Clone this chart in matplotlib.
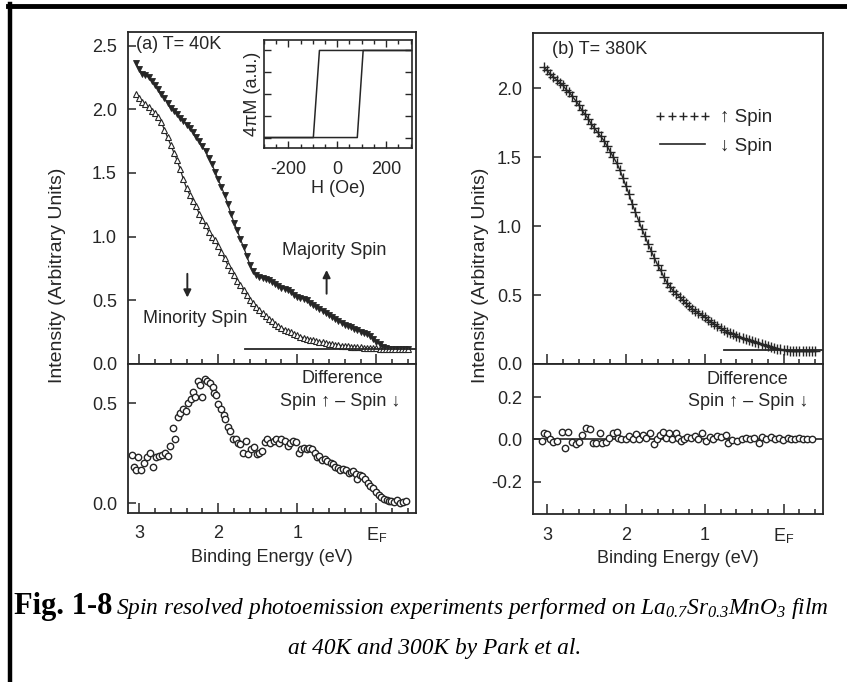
import numpy as np
import matplotlib

matplotlib.use("Agg")
import matplotlib.pyplot as plt
from matplotlib.lines import Line2D
from matplotlib.ticker import FixedLocator, MultipleLocator

plt.rcParams.update(
    {
        "font.family": ["Liberation Sans", "DejaVu Sans"],
        "axes.unicode_minus": False,
        "mathtext.fontset": "custom",
        "mathtext.rm": "Liberation Serif:italic",
        "mathtext.sf": "Liberation Sans",
        "mathtext.it": "Liberation Serif:italic",
        "mathtext.bf": "Liberation Serif:bold",
    }
)

INK = "#262626"

# ---- panel (a), T = 40 K: spin-resolved spectra on a uniform energy grid
ENERGY_A = np.linspace(3.04, -0.40, 87)
MAJORITY_40K = [
    2.36, 2.32, 2.28, 2.27, 2.25, 2.22, 2.19, 2.16, 2.12, 2.09,
    2.05, 2.01, 1.99, 1.96, 1.93, 1.91, 1.88, 1.85, 1.82, 1.78,
    1.75, 1.71, 1.67, 1.62, 1.57, 1.51, 1.45, 1.39, 1.33, 1.26,
    1.18, 1.11, 1.05, 0.98, 0.92, 0.85, 0.78, 0.73, 0.70, 0.68,
    0.675, 0.67, 0.66, 0.645, 0.63, 0.615, 0.60, 0.59, 0.58, 0.565,
    0.545, 0.53, 0.52, 0.51, 0.50, 0.48, 0.465, 0.45, 0.43, 0.42,
    0.40, 0.385, 0.37, 0.355, 0.34, 0.32, 0.31, 0.30, 0.29, 0.275,
    0.265, 0.255, 0.245, 0.235, 0.22, 0.20, 0.175, 0.155, 0.135, 0.125,
    0.12, 0.12, 0.118, 0.12, 0.12, 0.118, 0.12,
]
MINORITY_40K = [
    2.12, 2.09, 2.06, 2.04, 2.02, 1.99, 1.97, 1.94, 1.90, 1.84,
    1.78, 1.72, 1.66, 1.60, 1.53, 1.45, 1.38, 1.33, 1.28, 1.24,
    1.18, 1.13, 1.09, 1.04, 1.00, 0.97, 0.93, 0.88, 0.83, 0.78,
    0.74, 0.70, 0.655, 0.62, 0.58, 0.54, 0.505, 0.48, 0.45, 0.425,
    0.40, 0.375, 0.355, 0.335, 0.315, 0.30, 0.285, 0.27, 0.26, 0.25,
    0.235, 0.225, 0.215, 0.205, 0.20, 0.19, 0.185, 0.18, 0.175, 0.17,
    0.165, 0.16, 0.155, 0.15, 0.148, 0.145, 0.14, 0.138, 0.135, 0.133,
    0.13, 0.13, 0.128, 0.125, 0.125, 0.123, 0.122, 0.12, 0.12, 0.12,
    0.118, 0.12, 0.12, 0.118, 0.12, 0.12, 0.12,
]
BASELINE_A = ([1.66, -0.50], [0.12, 0.12])

DIFF_E_A = [
    3.09, 3.07, 3.04, 3.01, 2.97, 2.94, 2.90, 2.86, 2.82, 2.79,
    2.75, 2.71, 2.67, 2.64, 2.61, 2.57, 2.54, 2.51, 2.48, 2.44,
    2.41, 2.38, 2.35, 2.32, 2.29, 2.26, 2.23, 2.20, 2.17, 2.14,
    2.10, 2.07, 2.05, 2.03, 2.00, 1.97, 1.93, 1.91, 1.88, 1.85,
    1.81, 1.78, 1.75, 1.72, 1.69, 1.65, 1.62, 1.58, 1.55, 1.51,
    1.48, 1.45, 1.41, 1.38, 1.34, 1.30, 1.27, 1.23, 1.20, 1.16,
    1.12, 1.09, 1.06, 1.02, 0.98, 0.95, 0.91, 0.88, 0.85, 0.81,
    0.78, 0.75, 0.72, 0.69, 0.65, 0.62, 0.58, 0.55, 0.52, 0.49,
    0.46, 0.42, 0.39, 0.35, 0.32, 0.29, 0.26, 0.24, 0.21, 0.18,
    0.14, 0.11, 0.08, 0.04, 0.01, -0.03, -0.06, -0.09, -0.13, -0.16,
    -0.19, -0.22, -0.26, -0.30, -0.33, -0.37,
]
DIFF_A = [
    0.24, 0.18, 0.165, 0.23, 0.165, 0.20, 0.23, 0.25, 0.18, 0.23,
    0.235, 0.24, 0.25, 0.235, 0.285, 0.375, 0.32, 0.43, 0.45, 0.47,
    0.46, 0.50, 0.52, 0.556, 0.53, 0.61, 0.59, 0.53, 0.62, 0.61,
    0.60, 0.58, 0.55, 0.54, 0.495, 0.47, 0.44, 0.42, 0.38, 0.36,
    0.32, 0.32, 0.30, 0.295, 0.25, 0.31, 0.245, 0.27, 0.28, 0.245,
    0.25, 0.26, 0.305, 0.32, 0.30, 0.31, 0.32, 0.30, 0.32, 0.31,
    0.285, 0.30, 0.31, 0.305, 0.25, 0.27, 0.275, 0.27, 0.275, 0.27,
    0.25, 0.23, 0.235, 0.215, 0.22, 0.21, 0.20, 0.195, 0.18, 0.175,
    0.165, 0.17, 0.165, 0.15, 0.155, 0.16, 0.145, 0.12, 0.14, 0.135,
    0.12, 0.10, 0.085, 0.075, 0.055, 0.04, 0.03, 0.02, 0.015, 0.01,
    0.01, 0.005, 0.015, 0.0, 0.005, 0.012,
]

# inset: hysteresis loop, field in Oe, magnetisation in arbitrary units
H_DOWN = [300, -73, -98, -300]
M_DOWN = [1.0, 1.0, -1.0, -1.0]
H_UP = [-300, 82, 106, 300]
M_UP = [-1.0, -1.0, 1.0, 1.0]

# ---- panel (b), T = 380 K
ENERGY_B = np.linspace(3.04, -0.40, 87)
SPIN_UP_380K = [
    2.15, 2.13, 2.10, 2.08, 2.06, 2.04, 2.02, 1.99, 1.97, 1.94,
    1.91, 1.88, 1.84, 1.81, 1.78, 1.74, 1.71, 1.68, 1.65, 1.62,
    1.58, 1.54, 1.50, 1.46, 1.41, 1.35, 1.29, 1.23, 1.16, 1.10,
    1.04, 0.98, 0.93, 0.87, 0.82, 0.77, 0.72, 0.68, 0.63, 0.59,
    0.56, 0.53, 0.51, 0.485, 0.465, 0.44, 0.42, 0.40, 0.385, 0.37,
    0.355, 0.34, 0.32, 0.305, 0.29, 0.275, 0.26, 0.246, 0.235, 0.225,
    0.215, 0.205, 0.197, 0.188, 0.18, 0.172, 0.165, 0.158, 0.15, 0.143,
    0.137, 0.13, 0.124, 0.118, 0.112, 0.106, 0.10, 0.098, 0.096, 0.095,
    0.095, 0.095, 0.094, 0.095, 0.095, 0.094, 0.095,
]
# spin-down curve coincides with spin-up at this scale
SPIN_DOWN_380K = list(SPIN_UP_380K)
BASELINE_B = ([0.76, -0.50], [0.10, 0.10])

DIFF_E_B = [
    3.07, 3.04, 3.00, 2.96, 2.93, 2.88, 2.81, 2.77, 2.73, 2.68,
    2.64, 2.60, 2.56, 2.51, 2.46, 2.42, 2.38, 2.33, 2.30, 2.26,
    2.21, 2.16, 2.12, 2.10, 2.06, 2.00, 1.96, 1.91, 1.87, 1.83,
    1.79, 1.74, 1.69, 1.65, 1.61, 1.57, 1.53, 1.49, 1.46, 1.42,
    1.37, 1.34, 1.30, 1.26, 1.22, 1.17, 1.13, 1.09, 1.03, 0.99,
    0.94, 0.89, 0.85, 0.80, 0.73, 0.70, 0.65, 0.59, 0.53, 0.48,
    0.43, 0.37, 0.31, 0.27, 0.22, 0.16, 0.11, 0.06, 0.01, -0.05,
    -0.10, -0.15, -0.20, -0.25, -0.30, -0.36,
]
DIFF_B = [
    -0.01, 0.028, 0.024, 0.0, -0.013, -0.008, 0.035, -0.04, 0.035, -0.013,
    -0.024, -0.013, 0.02, 0.055, 0.05, -0.016, -0.016, 0.028, -0.016, -0.013,
    0.008, 0.03, 0.035, 0.008, 0.003, 0.0, 0.016, 0.003, 0.024, 0.0,
    0.02, 0.008, 0.028, -0.024, 0.0, 0.02, 0.035, 0.008, 0.028, 0.0,
    0.028, 0.008, -0.008, 0.003, 0.013, 0.008, 0.016, 0.003, 0.028, -0.008,
    0.013, 0.003, 0.016, 0.013, 0.02, -0.016, -0.003, -0.008, 0.0, 0.008,
    0.003, 0.008, -0.016, 0.013, 0.003, 0.013, 0.0, 0.008, -0.003, 0.008,
    0.0, 0.0, 0.008, 0.003, 0.0, 0.003,
]

X_TICKS = [3, 2, 1, 0]
X_TICK_LABELS = ["3", "2", "1", r"E$_\mathsf{F}$"]

W, H = 847, 682


def rect(left, top, right, bottom):
    return [left / W, 1 - bottom / H, (right - left) / W, (bottom - top) / H]


def style(ax, xlim, ylim, yticks, show_xlabels):
    ax.set_xlim(*xlim)
    ax.set_ylim(*ylim)
    for sp in ax.spines.values():
        sp.set_color(INK)
        sp.set_linewidth(1.3)
    ax.xaxis.set_major_locator(FixedLocator(X_TICKS))
    ax.xaxis.set_minor_locator(MultipleLocator(0.2))
    ax.set_yticks(yticks)
    ax.set_yticklabels([f"{v:.1f}" for v in yticks])
    ax.tick_params(axis="both", which="both", direction="in", colors=INK,
                   labelsize=13, top=False, right=False, width=1.1)
    ax.tick_params(axis="x", which="major", length=7, pad=9,
                   labelbottom=show_xlabels)
    ax.tick_params(axis="x", which="minor", length=3.5)
    ax.tick_params(axis="y", which="major", length=6, pad=8)
    if show_xlabels:
        ax.set_xticklabels(X_TICK_LABELS)
        ax.set_xlabel("Binding Energy (eV)", fontsize=13, color=INK, labelpad=3)


fig = plt.figure(figsize=(W / 100, H / 100), dpi=100)

# ---------------- panel (a)
ax_a = fig.add_axes(rect(128, 32, 416, 364))
ax_ad = fig.add_axes(rect(128, 364, 416, 513))
style(ax_a, (3.14, -0.50), (0, 2.607), [0.0, 0.5, 1.0, 1.5, 2.0, 2.5], False)
style(ax_ad, (3.14, -0.50), (-0.05, 0.695), [0.0, 0.5], True)

ax_a.plot(ENERGY_A, MAJORITY_40K, color=INK, lw=0.9, marker="v", ms=4.2,
          mfc=INK, mec=INK, mew=0.6)
ax_a.plot(ENERGY_A, MINORITY_40K, color=INK, lw=0.9, marker="^", ms=4.2,
          mfc="white", mec=INK, mew=0.8)
ax_a.plot(*BASELINE_A, color=INK, lw=1.3)
ax_a.text(0.028, 0.962, "(a) T= 40K", transform=ax_a.transAxes, fontsize=13,
          color=INK, va="center", ha="left")
ax_a.text(0.54, 0.89, "Majority Spin", fontsize=13, color=INK, ha="center", va="center")
ax_a.text(2.29, 0.36, "Minority Spin", fontsize=13, color=INK, ha="center", va="center")
ax_a.annotate("", xy=(2.39, 0.50), xytext=(2.39, 0.73),
              arrowprops=dict(arrowstyle="-|>", color=INK, lw=1.4, mutation_scale=11))
ax_a.annotate("", xy=(0.63, 0.76), xytext=(0.63, 0.53),
              arrowprops=dict(arrowstyle="-|>", color=INK, lw=1.4, mutation_scale=11))

ax_ad.plot(DIFF_E_A, DIFF_A, ls="none", marker="o", ms=4.6, mfc="white",
           mec=INK, mew=1.0)
ax_ad.text(0.743, 0.90, "Difference", transform=ax_ad.transAxes, fontsize=13,
           color=INK, ha="center", va="center")
ax_ad.text(0.736, 0.745, "Spin ↑ – Spin ↓", transform=ax_ad.transAxes,
           fontsize=13, color=INK, ha="center", va="center")

# inset hysteresis loop
ax_in = fig.add_axes(rect(264, 40, 412, 148))
ax_in.plot(H_DOWN, M_DOWN, color=INK, lw=1.1)
ax_in.plot(H_UP, M_UP, color=INK, lw=1.1)
ax_in.set_xlim(-300, 306)
ax_in.set_ylim(-1.24, 1.24)
ax_in.xaxis.set_major_locator(MultipleLocator(200))
ax_in.xaxis.set_minor_locator(MultipleLocator(50))
ax_in.yaxis.set_major_locator(MultipleLocator(0.5))
ax_in.tick_params(axis="both", which="both", direction="in", top=True,
                  right=True, colors=INK, labelsize=13, width=1.0)
ax_in.tick_params(axis="both", which="major", length=5)
ax_in.tick_params(axis="both", which="minor", length=3)
ax_in.tick_params(axis="x", pad=9)
ax_in.tick_params(axis="y", labelleft=False)
for sp in ax_in.spines.values():
    sp.set_color(INK)
    sp.set_linewidth(1.2)
ax_in.set_xlabel("H (Oe)", fontsize=13, color=INK, labelpad=2)
ax_in.set_ylabel("4πM (a.u.)", fontsize=13, color=INK, labelpad=2)

# ---------------- panel (b)
ax_b = fig.add_axes(rect(533, 33, 823, 364))
ax_bd = fig.add_axes(rect(533, 364, 823, 514))
style(ax_b, (3.18, -0.50), (0, 2.4), [0.0, 0.5, 1.0, 1.5, 2.0], False)
style(ax_bd, (3.18, -0.50), (-0.353, 0.356), [-0.2, 0.0, 0.2], True)

ax_b.plot(ENERGY_B, SPIN_DOWN_380K, color=INK, lw=1.0)
ax_b.plot(ENERGY_B, SPIN_UP_380K, ls="none", marker="+", ms=7, mew=1.0, color=INK)
ax_b.plot(*BASELINE_B, color=INK, lw=1.3)
ax_b.text(0.066, 0.949, "(b) T= 380K", transform=ax_b.transAxes, fontsize=13,
          color=INK, va="center", ha="left")
handles = [
    Line2D([], [], ls="none", marker="+", ms=6, mew=1.0, color=INK),
    Line2D([], [], color=INK, lw=1.2),
]
ax_b.legend(handles, ["↑ Spin", "↓ Spin"], numpoints=5, handlelength=3.0,
            loc="upper left", bbox_to_anchor=(0.42, 0.77), frameon=False,
            fontsize=13.5, handletextpad=0.5, labelspacing=0.6,
            borderaxespad=0, borderpad=0, labelcolor=INK)

ax_bd.axhline(0, color=INK, lw=1.2)
ax_bd.plot(DIFF_E_B, DIFF_B, ls="none", marker="o", ms=4.6, mfc="white",
           mec=INK, mew=1.0)
ax_bd.text(0.738, 0.90, "Difference", transform=ax_bd.transAxes, fontsize=13,
           color=INK, ha="center", va="center")
ax_bd.text(0.741, 0.753, "Spin ↑ – Spin ↓", transform=ax_bd.transAxes,
           fontsize=13, color=INK, ha="center", va="center")

# shared y labels, centred on each panel
for xc in (58, 480):
    fig.text(xc / W, 1 - 275 / H, "Intensity (Arbitrary Units)", rotation=90,
             fontsize=14, color=INK, ha="center", va="center")

# page frame and caption
fig.add_artist(Line2D([8 / W, 1], [1 - 6 / H, 1 - 6 / H], transform=fig.transFigure,
                      color="black", lw=3.5))
fig.add_artist(Line2D([10 / W, 10 / W], [0, 1 - 4 / H], transform=fig.transFigure,
                      color="black", lw=3.2))
fig.text(14 / W, 1 - 614 / H, "Fig. 1-8", family="Liberation Serif",
         weight="bold", fontsize=22, color="black", ha="left", va="baseline")
fig.text(116 / W, 1 - 614 / H,
         r"Spin resolved photoemission experiments performed on "
         r"La$_{0.7}$Sr$_{0.3}$MnO$_{3}$ film",
         family="Liberation Serif", style="italic", fontsize=16.8,
         color="black", ha="left", va="baseline")
fig.text(435 / W, 1 - 654 / H, "at 40K and 300K by Park et al.",
         family="Liberation Serif", style="italic", fontsize=16.8,
         color="black", ha="center", va="baseline")

fig.savefig("out.png", dpi=100)
